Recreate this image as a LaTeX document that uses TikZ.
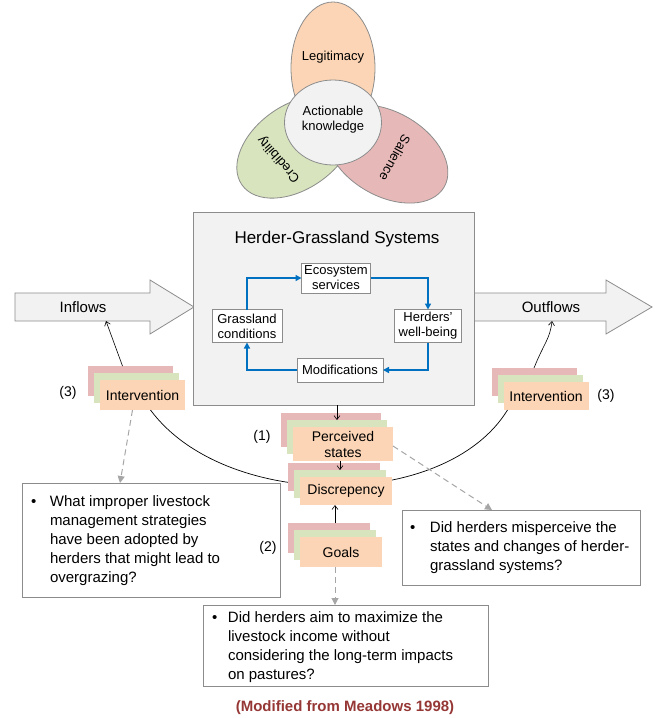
\documentclass[tikz,border=0pt]{standalone}
\usepackage{fontspec}
\setmainfont{Liberation Sans}
\usetikzlibrary{arrows.meta,calc,shapes.geometric}
\definecolor{cpink}{HTML}{E6B9B8}
\definecolor{cgreen}{HTML}{D7E4BD}
\definecolor{corange}{HTML}{FBD5B5}
\definecolor{cgray}{HTML}{F2F2F2}
\definecolor{cborder}{HTML}{8C8C8C}
\definecolor{cblue}{HTML}{0070C0}
\definecolor{cdash}{HTML}{A6A6A6}
\definecolor{ccap}{HTML}{953735}
\newcommand\fs[2]{\fontsize{#1}{#2}\selectfont}
\newcommand\stackbox[6]{%
  \node[pinkbox,minimum width=#4,minimum height=#5] (#1-p) at (#2-12,#3-14) {};
  \node[greenbox,minimum width=#4,minimum height=#5] (#1-g) at (#2-6,#3-7) {};
  \node[orangebox,minimum width=#4,minimum height=#5] (#1) at (#2,#3) {#6};}
\begin{document}
\begin{tikzpicture}[x=1pt,y=-1pt,
  every node/.style={inner sep=0pt,outer sep=0pt},
  lbl/.style={font=\fs{14}{17}},
  inbox/.style={draw=cborder,fill=white,line width=0.8pt,align=center,font=\fs{13}{15}},
  pinkbox/.style={fill=cpink},
  greenbox/.style={fill=cgreen},
  orangebox/.style={fill=corange,align=center,font=\fs{14}{16}},
  qframe/.style={draw=cborder,fill=white,line width=0.8pt},
  qtext/.style={anchor=north west,font=\fs{15}{19},align=left},
  blk/.style={-{Straight Barb[length=4pt,width=6pt]},line width=0.6pt},
  bluearr/.style={cblue,line width=1.5pt,-{Triangle[length=6pt,width=6pt]}},
  dasharr/.style={cdash,line width=1pt,dash pattern=on 6pt off 4pt,-{Triangle[length=7pt,width=7pt]}},
  bigarrow/.style={draw=cborder,fill=cgray,line width=0.8pt},
  ell/.style={draw=cborder,line width=0.8pt},
]
\useasboundingbox (0,0) rectangle (654,718);
% top ellipses
\draw[ell,fill=corange] (333,68) ellipse [x radius=42, y radius=66];
\draw[ell,fill=cgreen,rotate around={125:(296,147)}] (296,147) ellipse [x radius=42, y radius=66];
\draw[ell,fill=cpink,rotate around={-120:(387,154)}] (387,154) ellipse [x radius=42, y radius=66];
\node[font=\fs{13}{15}] (leg) at (333,57) {Legitimacy};
\node[font=\fs{13}{15},rotate=131] (cred) at (279,159) {Credibility};
\node[font=\fs{13}{15},rotate=-119] (sal) at (395,158) {Salience};
\node[ellipse,draw=cborder,fill=cgray,line width=0.8pt,minimum width=97,minimum height=85] (ak) at (333,122.5) {};
\node[align=center,font=\fs{13}{15}] (akt) at (333,120) {Actionable\\knowledge};
% flows
\draw[bigarrow] (15,293) -- (150,293) -- (150,280) -- (194,307) -- (150,334) -- (150,321) -- (15,321) -- cycle;
\draw[bigarrow] (474,293) -- (606,293) -- (606,280) -- (652,307) -- (606,334) -- (606,321) -- (474,321) -- cycle;
\node[font=\fs{15}{18}] (inflows) at (83,307) {Inflows};
\node[font=\fs{15}{18}] (outflows) at (551,307) {Outflows};
\coordinate (inbot) at (106,321);
\coordinate (outbot) at (552,321);
% system box
\node[draw=cborder,fill=cgray,line width=0.8pt,minimum width=281,minimum height=193] (sys) at (334,308.5) {};
\node[font=\fs{17}{20}] (title) at (337,239) {Herder-Grassland Systems};
\node[inbox,minimum width=69,minimum height=30] (es) at (336,278) {Ecosystem\\services};
\node[inbox,minimum width=67,minimum height=33] (hw) at (428,326) {Herders’\\well-being};
\node[inbox,minimum width=70,minimum height=33] (gc) at (247,326) {Grassland\\conditions};
\node[inbox,minimum width=86,minimum height=24] (mod) at (340,370) {Modifications};
\draw[bluearr] (gc.north) |- (es.west);
\draw[bluearr] (es.east) -| (hw.north);
\draw[bluearr] (hw.south) |- (mod.east);
\draw[bluearr] (mod.west) -| (gc.south);
% question frames
\node[qframe,minimum width=258,minimum height=114] (qa) at (151,540) {};
\node[qframe,minimum width=238,minimum height=75] (qb) at (521,547.5) {};
\node[qframe,minimum width=285,minimum height=81] (qc) at (345.5,645.5) {};
\node[qtext] (qat) at ($(qa.north west)+(9,10)$) {\begin{tabular}{@{}p{19pt}@{}l@{}}\textbullet & What improper livestock\\ & management strategies\\ & have been adopted by\\ & herders that might lead to\\ & overgrazing?\end{tabular}};
\node[qtext] (qbt) at ($(qb.north west)+(8,9)$) {\begin{tabular}{@{}p{20pt}@{}l@{}}\textbullet & Did herders misperceive the\\ & states and changes of herder-\\ & grassland systems?\end{tabular}};
\node[qtext] (qct) at ($(qc.north west)+(9,4)$) {\begin{tabular}{@{}p{16pt}@{}l@{}}\textbullet & Did herders aim to maximize the\\ & livestock income without\\ & considering the long-term impacts\\ & on pastures?\end{tabular}};
% stacks
\stackbox{li}{142.5}{395}{85}{30}{Intervention}
\stackbox{ri}{546}{396}{85}{28}{Intervention}
% arc behind discrepancy
\draw[line width=0.7pt] ($(li.south)+(8,0)$) .. controls +(75,101) and +(-62,101) .. ($(ri.south west)+(4,0)$);
\stackbox{ps}{343}{444}{100}{34}{Perceived\\states}
\stackbox{d}{346}{491}{92}{28}{Discrepency}
\stackbox{g}{341}{552}{82}{30}{Goals}
% labels
\node[lbl] (l3a) at (68,393) {(3)};
\node[lbl] (l3b) at (606,396) {(3)};
\node[lbl] (l1) at (262,437) {(1)};
\node[lbl] (l2) at (268,548) {(2)};
% black arrows
\draw[blk] ($(li-p.north)+(-8,0)$) -- (inbot);
\draw[blk] (ri-p.north) .. controls +(10,-25) and +(-2,18) .. (outbot);
\draw[blk] (sys.south -| ps-g.north) -- (ps-g.north);
\draw[blk] (ps.south -| d-g.north) -- (d-g.north);
\draw[blk] (g-g.north |- g-p.north) -- (d.south -| g-g.north);
% dashed arrows
\draw[dasharr] ($(li.south)+(-10,0)$) -- ($(qa.north west)+(98,0)$);
\draw[dasharr] ($(ps.east)+(0,2)$) -- ($(qb.north west)+(90,0)$);
\coordinate (gd) at ($(g.south)+(-6,0)$);
\draw[dasharr] (gd) -- (gd |- qc.north);
% caption
\node[font=\bfseries\fs{15}{18},text=ccap] (cap) at (345,708) {(Modified from Meadows 1998)};
\end{tikzpicture}
\end{document}
